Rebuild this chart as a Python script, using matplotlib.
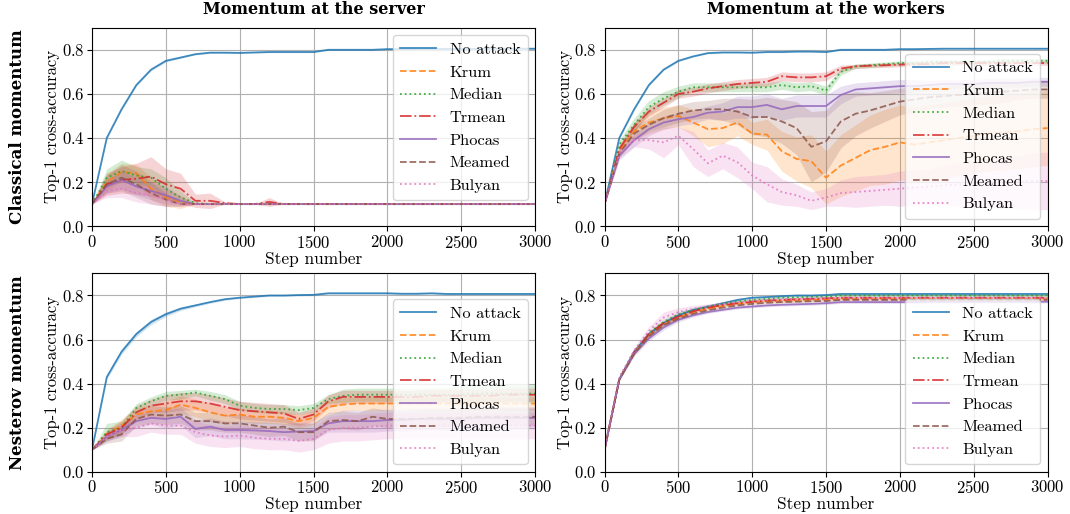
import numpy as np
import matplotlib
matplotlib.use('Agg')
import matplotlib.pyplot as plt

# Computer Modern look (fonts shipped with matplotlib)
plt.rcParams['font.family'] = 'serif'
plt.rcParams['font.serif'] = ['cmr10']
plt.rcParams['mathtext.fontset'] = 'cm'
plt.rcParams['axes.formatter.use_mathtext'] = True
plt.rcParams['axes.unicode_minus'] = False

steps = np.arange(0, 3001, 100)
names = ['No attack', 'Krum', 'Median', 'Trmean', 'Phocas', 'Meamed', 'Bulyan']
col_titles = ['Momentum at the server', 'Momentum at the workers']
row_titles = ['Classical momentum', 'Nesterov momentum']

# ---- Classical momentum, momentum at the server ----
cs_noattack = [0.10, 0.40, 0.53, 0.64, 0.71, 0.75, 0.765, 0.78, 0.787, 0.787, 0.786, 0.788, 0.79, 0.79, 0.79, 0.79,
               0.80, 0.80, 0.80, 0.80, 0.803, 0.803, 0.803, 0.804, 0.804, 0.804, 0.804, 0.805, 0.805, 0.805, 0.805]
cs_krum = [0.10, 0.20, 0.245, 0.24, 0.17, 0.13, 0.11, 0.10, 0.10, 0.10, 0.10, 0.10, 0.10, 0.10, 0.10, 0.10,
           0.10, 0.10, 0.10, 0.10, 0.10, 0.10, 0.10, 0.10, 0.10, 0.10, 0.10, 0.10, 0.10, 0.10, 0.10]
cs_median = [0.10, 0.22, 0.25, 0.23, 0.22, 0.17, 0.13, 0.105, 0.10, 0.10, 0.10, 0.10, 0.10, 0.10, 0.10, 0.10,
             0.10, 0.10, 0.10, 0.10, 0.10, 0.10, 0.10, 0.10, 0.10, 0.10, 0.10, 0.10, 0.10, 0.10, 0.10]
cs_trmean = [0.10, 0.19, 0.21, 0.215, 0.225, 0.19, 0.17, 0.115, 0.115, 0.105, 0.10, 0.10, 0.11, 0.10, 0.10, 0.10,
             0.10, 0.10, 0.10, 0.10, 0.10, 0.10, 0.10, 0.10, 0.10, 0.10, 0.10, 0.10, 0.10, 0.10, 0.10]
cs_phocas = [0.10, 0.18, 0.21, 0.18, 0.16, 0.14, 0.115, 0.10, 0.10, 0.10, 0.10, 0.10, 0.10, 0.10, 0.10, 0.10,
             0.10, 0.10, 0.10, 0.10, 0.10, 0.10, 0.10, 0.10, 0.10, 0.10, 0.10, 0.10, 0.10, 0.10, 0.10]
cs_meamed = [0.10, 0.19, 0.22, 0.19, 0.15, 0.12, 0.10, 0.10, 0.10, 0.10, 0.10, 0.10, 0.10, 0.10, 0.10, 0.10,
             0.10, 0.10, 0.10, 0.10, 0.10, 0.10, 0.10, 0.10, 0.10, 0.10, 0.10, 0.10, 0.10, 0.10, 0.10]
cs_bulyan = [0.10, 0.16, 0.17, 0.15, 0.14, 0.12, 0.10, 0.10, 0.10, 0.10, 0.10, 0.10, 0.10, 0.10, 0.10, 0.10,
             0.10, 0.10, 0.10, 0.10, 0.10, 0.10, 0.10, 0.10, 0.10, 0.10, 0.10, 0.10, 0.10, 0.10, 0.10]
# band half-widths
cs_noattack_sd = [0.0, 0.005, 0.005, 0.005, 0.005, 0.005, 0.004, 0.003, 0.003, 0.003, 0.003, 0.003, 0.003, 0.003, 0.003, 0.003,
                  0.003, 0.003, 0.003, 0.003, 0.003, 0.003, 0.003, 0.003, 0.003, 0.003, 0.003, 0.003, 0.003, 0.003, 0.003]
cs_krum_sd = [0.0, 0.04, 0.04, 0.04, 0.05, 0.04, 0.03, 0.0, 0.0, 0.0, 0.0, 0.0, 0.0, 0.0, 0.0, 0.0,
              0.0, 0.0, 0.0, 0.0, 0.0, 0.0, 0.0, 0.0, 0.0, 0.0, 0.0, 0.0, 0.0, 0.0, 0.0]
cs_median_sd = [0.0, 0.04, 0.05, 0.04, 0.04, 0.05, 0.03, 0.0, 0.0, 0.0, 0.0, 0.0, 0.0, 0.0, 0.0, 0.0,
                0.0, 0.0, 0.0, 0.0, 0.0, 0.0, 0.0, 0.0, 0.0, 0.0, 0.0, 0.0, 0.0, 0.0, 0.0]
cs_trmean_sd = [0.0, 0.05, 0.06, 0.07, 0.09, 0.07, 0.07, 0.03, 0.035, 0.005, 0.0, 0.0, 0.02, 0.0, 0.0, 0.0,
                0.0, 0.0, 0.0, 0.0, 0.0, 0.0, 0.0, 0.0, 0.0, 0.0, 0.0, 0.0, 0.0, 0.0, 0.0]
cs_phocas_sd = [0.0, 0.03, 0.04, 0.04, 0.04, 0.04, 0.02, 0.0, 0.0, 0.0, 0.0, 0.0, 0.0, 0.0, 0.0, 0.0,
                0.0, 0.0, 0.0, 0.0, 0.0, 0.0, 0.0, 0.0, 0.0, 0.0, 0.0, 0.0, 0.0, 0.0, 0.0]
cs_meamed_sd = [0.0, 0.04, 0.06, 0.06, 0.05, 0.03, 0.01, 0.0, 0.0, 0.0, 0.0, 0.0, 0.0, 0.0, 0.0, 0.0,
                0.0, 0.0, 0.0, 0.0, 0.0, 0.0, 0.0, 0.0, 0.0, 0.0, 0.0, 0.0, 0.0, 0.0, 0.0]
cs_bulyan_sd = [0.0, 0.03, 0.04, 0.04, 0.04, 0.03, 0.01, 0.0, 0.0, 0.0, 0.0, 0.0, 0.0, 0.0, 0.0, 0.0,
                0.0, 0.0, 0.0, 0.0, 0.0, 0.0, 0.0, 0.0, 0.0, 0.0, 0.0, 0.0, 0.0, 0.0, 0.0]

# ---- Classical momentum, momentum at the workers ----
cw_noattack = [0.10, 0.40, 0.53, 0.64, 0.71, 0.75, 0.77, 0.785, 0.788, 0.788, 0.787, 0.79, 0.79, 0.792, 0.792, 0.79,
               0.80, 0.80, 0.80, 0.80, 0.803, 0.803, 0.804, 0.805, 0.805, 0.805, 0.805, 0.805, 0.805, 0.805, 0.805]
cw_krum = [0.10, 0.34, 0.43, 0.47, 0.49, 0.50, 0.47, 0.44, 0.445, 0.47, 0.42, 0.415, 0.34, 0.305, 0.295, 0.22,
           0.275, 0.31, 0.345, 0.36, 0.38, 0.37, 0.38, 0.39, 0.40, 0.41, 0.42, 0.425, 0.43, 0.44, 0.445]
cw_median = [0.10, 0.37, 0.46, 0.54, 0.58, 0.61, 0.63, 0.63, 0.63, 0.63, 0.63, 0.63, 0.64, 0.63, 0.635, 0.615,
             0.70, 0.725, 0.73, 0.735, 0.74, 0.74, 0.745, 0.745, 0.745, 0.745, 0.745, 0.75, 0.75, 0.75, 0.75]
cw_trmean = [0.10, 0.35, 0.45, 0.52, 0.56, 0.60, 0.61, 0.625, 0.635, 0.645, 0.65, 0.655, 0.68, 0.675, 0.675, 0.68,
             0.715, 0.725, 0.728, 0.73, 0.733, 0.735, 0.735, 0.74, 0.74, 0.74, 0.74, 0.74, 0.74, 0.74, 0.74]
cw_phocas = [0.10, 0.32, 0.39, 0.44, 0.47, 0.485, 0.495, 0.515, 0.52, 0.54, 0.54, 0.55, 0.53, 0.545, 0.545, 0.545,
             0.595, 0.62, 0.625, 0.63, 0.635, 0.635, 0.64, 0.645, 0.645, 0.645, 0.65, 0.65, 0.65, 0.655, 0.655]
cw_meamed = [0.10, 0.33, 0.42, 0.46, 0.49, 0.51, 0.525, 0.53, 0.53, 0.52, 0.495, 0.495, 0.475, 0.445, 0.36, 0.385,
             0.475, 0.51, 0.525, 0.545, 0.565, 0.575, 0.585, 0.59, 0.595, 0.60, 0.605, 0.61, 0.615, 0.62, 0.62]
cw_bulyan = [0.10, 0.33, 0.39, 0.39, 0.38, 0.41, 0.35, 0.285, 0.32, 0.29, 0.23, 0.19, 0.155, 0.14, 0.115, 0.13,
             0.15, 0.155, 0.16, 0.165, 0.17, 0.175, 0.18, 0.185, 0.19, 0.19, 0.195, 0.20, 0.20, 0.205, 0.205]
cw_noattack_sd = [0.0, 0.005, 0.005, 0.005, 0.004, 0.004, 0.003, 0.003, 0.003, 0.003, 0.003, 0.003, 0.003, 0.003, 0.003, 0.003,
                  0.003, 0.003, 0.003, 0.003, 0.003, 0.003, 0.003, 0.003, 0.003, 0.003, 0.003, 0.003, 0.003, 0.003, 0.003]
cw_krum_sd = [0.0, 0.02, 0.04, 0.05, 0.05, 0.05, 0.06, 0.08, 0.07, 0.06, 0.05, 0.07, 0.09, 0.10, 0.12, 0.12,
              0.14, 0.15, 0.16, 0.17, 0.17, 0.17, 0.17, 0.17, 0.17, 0.17, 0.17, 0.17, 0.17, 0.17, 0.17]
cw_median_sd = [0.0, 0.02, 0.03, 0.03, 0.03, 0.025, 0.02, 0.02, 0.02, 0.02, 0.02, 0.02, 0.02, 0.02, 0.02, 0.02,
                0.015, 0.01, 0.01, 0.01, 0.01, 0.01, 0.01, 0.01, 0.01, 0.01, 0.01, 0.01, 0.01, 0.01, 0.01]
cw_trmean_sd = [0.0, 0.02, 0.02, 0.02, 0.02, 0.02, 0.02, 0.02, 0.02, 0.02, 0.02, 0.02, 0.02, 0.02, 0.02, 0.02,
                0.015, 0.01, 0.01, 0.01, 0.01, 0.01, 0.01, 0.01, 0.01, 0.01, 0.01, 0.01, 0.01, 0.01, 0.01]
cw_phocas_sd = [0.0, 0.02, 0.03, 0.03, 0.03, 0.03, 0.03, 0.03, 0.04, 0.05, 0.05, 0.05, 0.05, 0.05, 0.05, 0.05,
                0.04, 0.03, 0.03, 0.03, 0.03, 0.03, 0.02, 0.02, 0.02, 0.02, 0.02, 0.02, 0.02, 0.02, 0.02]
cw_meamed_sd = [0.0, 0.02, 0.03, 0.03, 0.04, 0.04, 0.04, 0.04, 0.05, 0.06, 0.08, 0.09, 0.10, 0.12, 0.16, 0.14,
                0.12, 0.10, 0.08, 0.07, 0.06, 0.06, 0.05, 0.05, 0.05, 0.05, 0.05, 0.05, 0.04, 0.04, 0.04]
cw_bulyan_sd = [0.0, 0.02, 0.03, 0.04, 0.07, 0.04, 0.08, 0.06, 0.06, 0.07, 0.06, 0.08, 0.06, 0.05, 0.04, 0.04,
                0.06, 0.07, 0.07, 0.07, 0.08, 0.08, 0.08, 0.09, 0.10, 0.10, 0.11, 0.12, 0.12, 0.13, 0.13]

# ---- Nesterov momentum, momentum at the server ----
ns_noattack = [0.10, 0.43, 0.545, 0.625, 0.68, 0.715, 0.74, 0.755, 0.77, 0.783, 0.79, 0.795, 0.80, 0.80, 0.802, 0.803,
               0.81, 0.81, 0.81, 0.81, 0.81, 0.808, 0.808, 0.81, 0.807, 0.807, 0.807, 0.807, 0.807, 0.807, 0.807]
ns_krum = [0.10, 0.17, 0.21, 0.26, 0.275, 0.28, 0.305, 0.29, 0.27, 0.255, 0.26, 0.25, 0.25, 0.245, 0.23, 0.245,
           0.295, 0.305, 0.31, 0.31, 0.31, 0.31, 0.31, 0.31, 0.31, 0.31, 0.31, 0.31, 0.31, 0.31, 0.31]
ns_median = [0.10, 0.18, 0.20, 0.29, 0.32, 0.345, 0.35, 0.36, 0.345, 0.33, 0.30, 0.29, 0.285, 0.285, 0.28, 0.29,
             0.33, 0.345, 0.35, 0.35, 0.35, 0.35, 0.35, 0.35, 0.35, 0.35, 0.355, 0.355, 0.355, 0.355, 0.355]
ns_trmean = [0.10, 0.17, 0.20, 0.27, 0.30, 0.31, 0.32, 0.32, 0.31, 0.295, 0.28, 0.275, 0.27, 0.265, 0.24, 0.26,
             0.32, 0.34, 0.34, 0.34, 0.34, 0.34, 0.34, 0.345, 0.345, 0.345, 0.345, 0.345, 0.35, 0.35, 0.35]
ns_phocas = [0.10, 0.16, 0.19, 0.23, 0.245, 0.24, 0.25, 0.195, 0.205, 0.19, 0.19, 0.188, 0.185, 0.18, 0.183, 0.185,
             0.22, 0.23, 0.23, 0.23, 0.235, 0.235, 0.24, 0.24, 0.24, 0.24, 0.245, 0.245, 0.245, 0.245, 0.245]
ns_meamed = [0.10, 0.15, 0.17, 0.24, 0.26, 0.255, 0.26, 0.23, 0.23, 0.22, 0.22, 0.21, 0.20, 0.205, 0.18, 0.18,
             0.23, 0.235, 0.23, 0.25, 0.24, 0.24, 0.24, 0.245, 0.245, 0.245, 0.25, 0.25, 0.25, 0.25, 0.25]
ns_bulyan = [0.10, 0.16, 0.19, 0.20, 0.22, 0.21, 0.21, 0.18, 0.165, 0.16, 0.165, 0.155, 0.15, 0.15, 0.14, 0.15,
             0.19, 0.20, 0.20, 0.205, 0.21, 0.21, 0.21, 0.21, 0.21, 0.21, 0.21, 0.21, 0.21, 0.21, 0.21]
ns_noattack_sd = [0.0, 0.01, 0.012, 0.012, 0.012, 0.01, 0.008, 0.006, 0.005, 0.005, 0.004, 0.004, 0.004, 0.004, 0.004, 0.004,
                  0.004, 0.004, 0.004, 0.004, 0.004, 0.004, 0.004, 0.004, 0.004, 0.004, 0.004, 0.004, 0.004, 0.004, 0.004]
ns_krum_sd = [0.0, 0.02, 0.03, 0.03, 0.03, 0.04, 0.04, 0.04, 0.04, 0.04, 0.03, 0.03, 0.03, 0.03, 0.03, 0.03,
              0.03, 0.03, 0.03, 0.03, 0.03, 0.03, 0.03, 0.03, 0.03, 0.03, 0.03, 0.03, 0.03, 0.03, 0.03]
ns_median_sd = [0.0, 0.04, 0.03, 0.02, 0.02, 0.02, 0.02, 0.015, 0.02, 0.02, 0.02, 0.02, 0.02, 0.02, 0.02, 0.02,
                0.02, 0.03, 0.03, 0.03, 0.03, 0.03, 0.03, 0.03, 0.03, 0.04, 0.04, 0.04, 0.04, 0.04, 0.04]
ns_trmean_sd = [0.0, 0.02, 0.03, 0.03, 0.03, 0.04, 0.04, 0.04, 0.04, 0.04, 0.04, 0.04, 0.04, 0.04, 0.03, 0.03,
                0.03, 0.03, 0.03, 0.03, 0.03, 0.03, 0.03, 0.03, 0.03, 0.03, 0.03, 0.03, 0.03, 0.03, 0.03]
ns_phocas_sd = [0.0, 0.02, 0.03, 0.03, 0.03, 0.04, 0.04, 0.04, 0.04, 0.04, 0.04, 0.04, 0.04, 0.04, 0.04, 0.04,
                0.04, 0.05, 0.05, 0.05, 0.05, 0.05, 0.05, 0.05, 0.05, 0.05, 0.05, 0.05, 0.05, 0.05, 0.05]
ns_meamed_sd = [0.0, 0.02, 0.03, 0.03, 0.04, 0.04, 0.04, 0.04, 0.04, 0.04, 0.04, 0.04, 0.04, 0.04, 0.04, 0.04,
                0.04, 0.04, 0.04, 0.04, 0.04, 0.04, 0.04, 0.04, 0.04, 0.04, 0.04, 0.04, 0.04, 0.04, 0.04]
ns_bulyan_sd = [0.0, 0.02, 0.03, 0.04, 0.04, 0.04, 0.04, 0.05, 0.05, 0.05, 0.05, 0.05, 0.05, 0.05, 0.05, 0.05,
                0.06, 0.06, 0.06, 0.06, 0.06, 0.06, 0.06, 0.06, 0.06, 0.06, 0.06, 0.06, 0.06, 0.06, 0.06]

# ---- Nesterov momentum, momentum at the workers ----
nw_noattack = [0.10, 0.42, 0.545, 0.625, 0.675, 0.71, 0.735, 0.75, 0.765, 0.78, 0.79, 0.793, 0.797, 0.80, 0.80, 0.802,
               0.807, 0.807, 0.807, 0.807, 0.807, 0.807, 0.807, 0.807, 0.807, 0.807, 0.807, 0.807, 0.807, 0.807, 0.807]
nw_krum = [0.10, 0.42, 0.54, 0.62, 0.67, 0.70, 0.725, 0.74, 0.752, 0.762, 0.77, 0.773, 0.776, 0.778, 0.78, 0.782,
           0.785, 0.785, 0.785, 0.785, 0.785, 0.785, 0.785, 0.785, 0.785, 0.785, 0.785, 0.785, 0.785, 0.785, 0.785]
nw_median = [0.10, 0.42, 0.545, 0.63, 0.68, 0.715, 0.735, 0.75, 0.762, 0.773, 0.78, 0.785, 0.79, 0.792, 0.794, 0.795,
             0.80, 0.80, 0.80, 0.80, 0.80, 0.80, 0.80, 0.80, 0.80, 0.80, 0.80, 0.80, 0.80, 0.80, 0.80]
nw_trmean = [0.10, 0.42, 0.54, 0.625, 0.675, 0.705, 0.728, 0.745, 0.757, 0.765, 0.772, 0.777, 0.78, 0.783, 0.785, 0.787,
             0.79, 0.79, 0.79, 0.79, 0.79, 0.79, 0.79, 0.79, 0.79, 0.79, 0.79, 0.79, 0.79, 0.79, 0.79]
nw_phocas = [0.10, 0.42, 0.535, 0.605, 0.655, 0.69, 0.71, 0.725, 0.735, 0.745, 0.75, 0.755, 0.758, 0.76, 0.762, 0.765,
             0.77, 0.77, 0.77, 0.77, 0.77, 0.77, 0.772, 0.772, 0.772, 0.772, 0.772, 0.772, 0.772, 0.772, 0.772]
nw_meamed = [0.10, 0.42, 0.535, 0.615, 0.665, 0.695, 0.717, 0.733, 0.745, 0.755, 0.762, 0.767, 0.77, 0.772, 0.774, 0.775,
             0.78, 0.78, 0.78, 0.78, 0.78, 0.78, 0.78, 0.78, 0.78, 0.78, 0.78, 0.78, 0.78, 0.78, 0.78]
nw_bulyan = [0.10, 0.43, 0.55, 0.64, 0.70, 0.725, 0.74, 0.752, 0.762, 0.77, 0.776, 0.78, 0.783, 0.785, 0.787, 0.788,
             0.79, 0.79, 0.79, 0.79, 0.79, 0.79, 0.79, 0.79, 0.79, 0.79, 0.79, 0.79, 0.79, 0.79, 0.79]
nw_noattack_sd = [0.0, 0.005, 0.008, 0.008, 0.008, 0.007, 0.006, 0.005, 0.005, 0.005, 0.005, 0.005, 0.005, 0.005, 0.005, 0.005,
                  0.005, 0.005, 0.005, 0.005, 0.005, 0.005, 0.005, 0.005, 0.005, 0.005, 0.005, 0.005, 0.005, 0.005, 0.005]
nw_krum_sd = [0.0, 0.005, 0.008, 0.01, 0.01, 0.008, 0.006, 0.005, 0.005, 0.005, 0.005, 0.005, 0.005, 0.005, 0.005, 0.005,
              0.005, 0.005, 0.005, 0.005, 0.005, 0.005, 0.005, 0.005, 0.005, 0.005, 0.005, 0.005, 0.005, 0.005, 0.005]
nw_median_sd = [0.0, 0.005, 0.008, 0.01, 0.012, 0.01, 0.008, 0.006, 0.005, 0.005, 0.005, 0.005, 0.005, 0.005, 0.005, 0.005,
                0.005, 0.005, 0.005, 0.005, 0.005, 0.005, 0.005, 0.005, 0.005, 0.005, 0.005, 0.005, 0.005, 0.005, 0.005]
nw_trmean_sd = [0.0, 0.005, 0.008, 0.01, 0.01, 0.008, 0.006, 0.005, 0.005, 0.005, 0.005, 0.005, 0.005, 0.005, 0.005, 0.005,
                0.005, 0.005, 0.005, 0.005, 0.005, 0.005, 0.005, 0.005, 0.005, 0.005, 0.005, 0.005, 0.005, 0.005, 0.005]
nw_phocas_sd = [0.0, 0.005, 0.01, 0.012, 0.012, 0.01, 0.008, 0.006, 0.006, 0.006, 0.006, 0.006, 0.006, 0.006, 0.006, 0.006,
                0.006, 0.006, 0.006, 0.006, 0.006, 0.006, 0.006, 0.006, 0.006, 0.006, 0.006, 0.006, 0.006, 0.006, 0.006]
nw_meamed_sd = [0.0, 0.005, 0.008, 0.01, 0.01, 0.008, 0.006, 0.005, 0.005, 0.005, 0.005, 0.005, 0.005, 0.005, 0.005, 0.005,
                0.005, 0.005, 0.005, 0.005, 0.005, 0.005, 0.005, 0.005, 0.005, 0.005, 0.005, 0.005, 0.005, 0.005, 0.005]
nw_bulyan_sd = [0.0, 0.01, 0.015, 0.02, 0.025, 0.02, 0.015, 0.01, 0.008, 0.006, 0.006, 0.006, 0.006, 0.006, 0.006, 0.006,
                0.006, 0.006, 0.006, 0.006, 0.006, 0.006, 0.006, 0.006, 0.006, 0.006, 0.006, 0.006, 0.006, 0.006, 0.006]

panels = [
    [(cs_noattack, cs_noattack_sd), (cs_krum, cs_krum_sd), (cs_median, cs_median_sd), (cs_trmean, cs_trmean_sd),
     (cs_phocas, cs_phocas_sd), (cs_meamed, cs_meamed_sd), (cs_bulyan, cs_bulyan_sd)],
    [(cw_noattack, cw_noattack_sd), (cw_krum, cw_krum_sd), (cw_median, cw_median_sd), (cw_trmean, cw_trmean_sd),
     (cw_phocas, cw_phocas_sd), (cw_meamed, cw_meamed_sd), (cw_bulyan, cw_bulyan_sd)],
    [(ns_noattack, ns_noattack_sd), (ns_krum, ns_krum_sd), (ns_median, ns_median_sd), (ns_trmean, ns_trmean_sd),
     (ns_phocas, ns_phocas_sd), (ns_meamed, ns_meamed_sd), (ns_bulyan, ns_bulyan_sd)],
    [(nw_noattack, nw_noattack_sd), (nw_krum, nw_krum_sd), (nw_median, nw_median_sd), (nw_trmean, nw_trmean_sd),
     (nw_phocas, nw_phocas_sd), (nw_meamed, nw_meamed_sd), (nw_bulyan, nw_bulyan_sd)],
]

colors = plt.rcParams['axes.prop_cycle'].by_key()['color'][:7]
styles = ['-', '--', ':', '-.', '-', '--', ':']
legend_locs = ['upper right', 'lower right', 'lower right', 'lower right']

fig = plt.figure(figsize=(10.7, 5.14), dpi=100)
lefts = [0.086, 0.565]
bottoms = [0.560, 0.082]
w, h = 0.414, 0.386

for i, series in enumerate(panels):
    r, c = divmod(i, 2)
    ax = fig.add_axes([lefts[c], bottoms[r], w, h])
    for k, (mean, sd) in enumerate(series):
        m = np.array(mean)
        s = np.array(sd)
        ax.fill_between(steps, m - s, m + s, color=colors[k], alpha=0.2, lw=0)
        ax.plot(steps, m, color=colors[k], ls=styles[k], lw=1.3, alpha=0.85, label=names[k])
    ax.set_xlim(0, 3000)
    ax.set_ylim(0, 0.9)
    ax.set_yticks([0.0, 0.2, 0.4, 0.6, 0.8])
    ax.set_xticks(np.arange(0, 3001, 500))
    ax.tick_params(labelsize=12, pad=2)
    ax.grid(True, color='#b0b0b0', lw=0.8)
    ax.set_axisbelow(True)
    ax.set_xlabel('Step number', fontsize=12.5, labelpad=0)
    ax.set_ylabel('Top-1 cross-accuracy', fontsize=12, labelpad=1)
    ax.legend(loc=legend_locs[i], fontsize=11.8, handlelength=2.2, borderpad=0.45,
              labelspacing=0.5, borderaxespad=0.45)
    if r == 0:
        ax.set_title(col_titles[c], fontsize=11.5, family='DejaVu Serif', weight='bold', pad=10)

for r in range(2):
    fig.text(0.016, bottoms[r] + h / 2, row_titles[r], rotation=90, ha='center', va='center',
             fontsize=12, family='DejaVu Serif', weight='bold')

fig.savefig('out.png', dpi=100)
